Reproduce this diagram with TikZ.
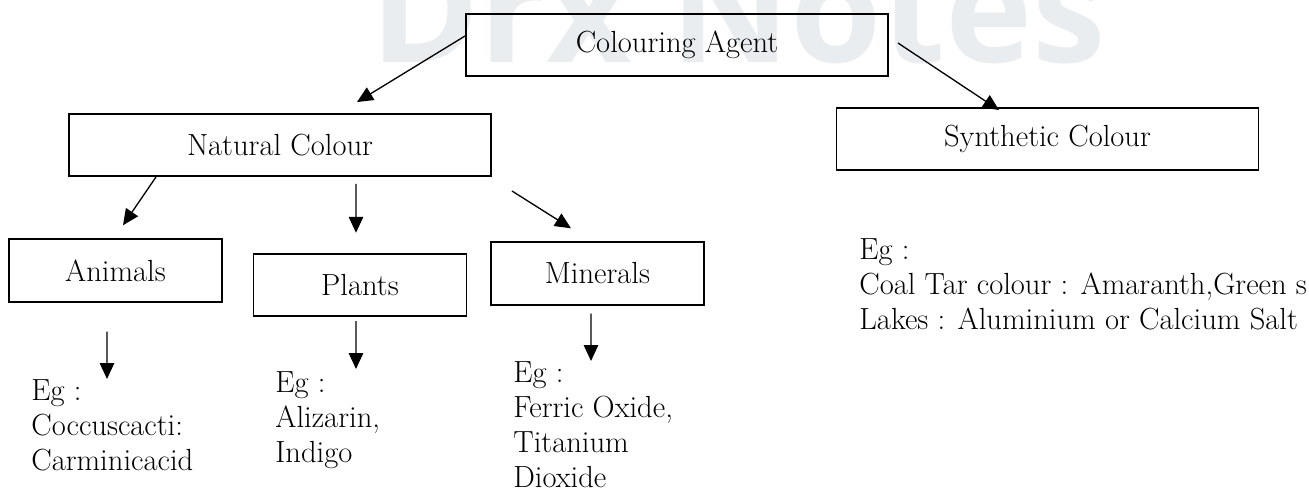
\documentclass[tikz,border=0pt]{standalone}
\usepackage{fontspec}
\usepackage{tikz}
\usetikzlibrary{positioning, arrows.meta}
\newfontfamily\markfont{Open Sans}
\definecolor{markgray}{RGB}{234,237,240}

\begin{document}
\begin{tikzpicture}[on grid, >={Triangle[length=3.2mm,width=2.9mm]},
    font=\fontsize{17.4}{19.9}\selectfont,
    bigbox/.style={draw, line width=1.1pt, minimum width=8.44cm, minimum height=1.24cm, inner sep=0pt},
    smallbox/.style={draw, line width=1.1pt, minimum width=4.26cm, minimum height=1.25cm, inner sep=0pt},
    eg/.style={align=left, anchor=north west, inner sep=0pt},
    link/.style={line width=0.75pt}]
  \useasboundingbox (0,0) rectangle (26.18,-9.78);
  \node[anchor=base west, text=markgray, inner sep=0pt, font=\markfont\bfseries\fontsize{84}{84}\selectfont] (mark) at (7.40,-1.24) {Drx Notes};

  \node[bigbox] (agent) at (13.54,-0.90) {Colouring Agent};
  \node[bigbox] (natural) [below left=2.0cm and 7.94cm of agent] {Natural Colour};
  \node[bigbox] (synthetic) [below right=1.88cm and 7.41cm of agent] {Synthetic Colour};
    \node[smallbox] (animals) [below left=2.51cm and 3.29cm of natural] {Animals};
    \node[smallbox] (plants) [below right=2.80cm and 1.60cm of natural] {Plants};
    \node[smallbox] (minerals) [below right=2.57cm and 6.35cm of natural] {Minerals};

  \node[eg] (animals_eg) at (0.62,-7.58) {Eg :\\ Coccuscacti:\\ Carminicacid};
  \node[eg] (plants_eg) at (5.50,-7.42) {Eg :\\ Alizarin,\\ Indigo};
  \node[eg] (minerals_eg) at (10.26,-7.22) {Eg :\\ Ferric Oxide,\\ Titanium\\ Dioxide};
  \node[eg] (synthetic_eg) at (17.18,-4.76) {Eg :\\ Coal Tar colour : Amaranth,Green s\\ Lakes : Aluminium or Calcium Salt};

  \path[->, link] ([yshift=0.18cm]agent.west) edge ([xshift=1.54cm,yshift=0.22cm]natural.north);
  \path[->, link] ([xshift=0.18cm,yshift=0.04cm]agent.east) edge ([xshift=-0.97cm,yshift=-0.06cm]synthetic.north);
  \path[->, link] ([xshift=-2.48cm]natural.south) edge ([xshift=0.15cm,yshift=0.26cm]animals.north);
  \path[->, link] ([xshift=1.52cm,yshift=-0.14cm]natural.south) edge ([xshift=-0.08cm,yshift=0.40cm]plants.north);
  \path[->, link] ([xshift=0.40cm,yshift=-0.28cm]natural.south east) edge ([xshift=-0.53cm,yshift=0.26cm]minerals.north);
  \path[->, link] ([xshift=-0.17cm,yshift=-0.58cm]animals.south) edge ([xshift=1.52cm]animals_eg.north west);
  \path[->, link] ([xshift=-0.08cm,yshift=-0.08cm]plants.south) edge ([xshift=1.62cm,yshift=0.04cm]plants_eg.north west);
  \path[->, link] ([xshift=-0.13cm,yshift=-0.16cm]minerals.south) edge ([xshift=1.56cm]minerals_eg.north west);
\end{tikzpicture}
\end{document}
